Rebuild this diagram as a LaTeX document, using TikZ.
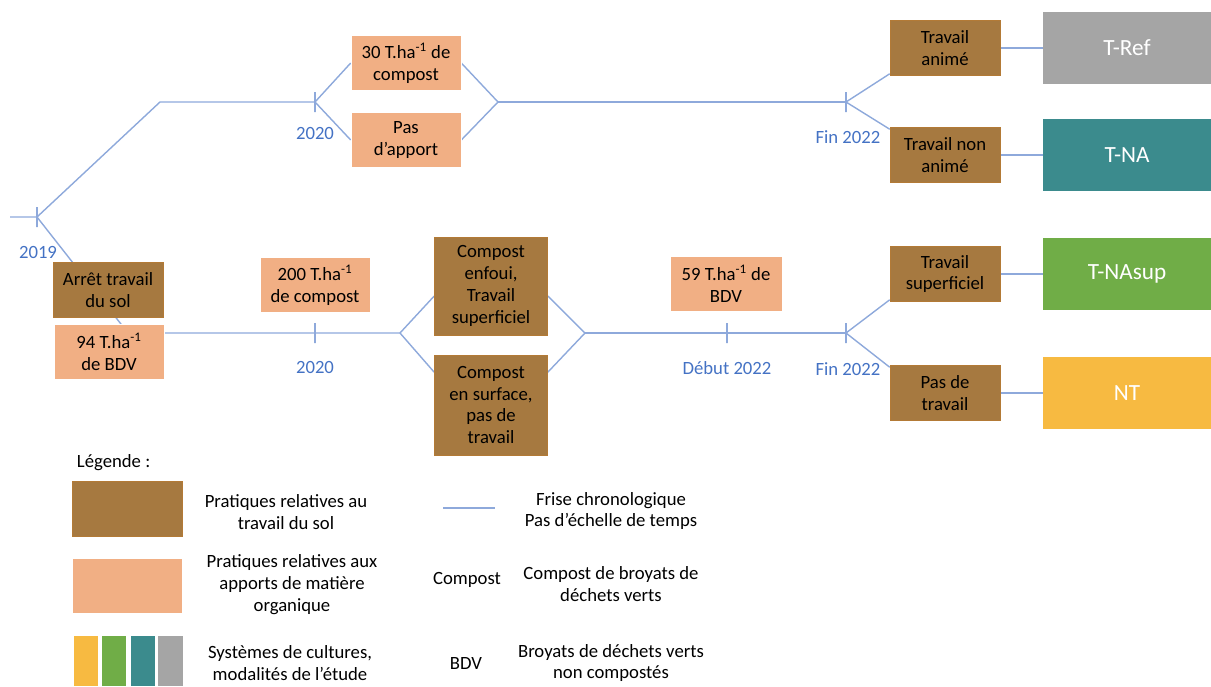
\documentclass[tikz,border=0pt]{standalone}
\usepackage{fontspec}
\setmainfont{Carlito}
\usetikzlibrary{backgrounds}
\definecolor{soilbrown}{RGB}{166,121,64}
\definecolor{omsalmon}{RGB}{241,175,132}
\definecolor{lineblue}{RGB}{142,169,219}
\definecolor{yearblue}{RGB}{68,114,196}
\definecolor{trefgrey}{RGB}{165,165,165}
\definecolor{tnateal}{RGB}{59,139,141}
\definecolor{tsupgreen}{RGB}{112,173,71}
\definecolor{ntyellow}{RGB}{247,186,65}

\begin{document}
\begin{tikzpicture}
  [x=0.025cm,y=-0.025cm,font=\fontsize{13.3}{15.6}\selectfont]
      \tikzstyle{soil_box} = [fill=soilbrown, draw=soilbrown!85!orange, align=center, minimum width=2.75cm, minimum height=1.375cm, inner sep=1pt]
      \tikzstyle{om_box} = [fill=omsalmon, draw=white, align=center, minimum width=2.75cm, minimum height=1.375cm, inner sep=1pt]
      \tikzstyle{sys_box} = [text=white, minimum width=4.2cm, minimum height=1.775cm, font=\fontsize{16.5}{19}\selectfont]
      \tikzstyle{year_label} = [text=yearblue]
      \tikzstyle{tick_mark} = [draw=lineblue, line width=1pt, minimum width=0pt, minimum height=0.5cm, inner sep=0pt]
      \tikzstyle{time_line} = [draw=lineblue, line width=1pt]
      \tikzstyle{leg_text} = [align=center]
  \useasboundingbox (0,0) rectangle (1211,686);

  % timeline ticks
  \node[tick_mark] (t19) at (37,217) {};
  \node[tick_mark] (t20a) at (315,102) {};
  \node[tick_mark] (f22a) at (846,102) {};
  \node[tick_mark] (t20b) at (315,333) {};
  \node[tick_mark] (d22) at (727,333) {};
  \node[tick_mark] (f22b) at (846,333) {};
  \coordinate (s0) at (10,217);
  \coordinate (k1) at (160,102);
  \coordinate (j1) at (498,102);
  \coordinate (k2) at (128,333);
  \coordinate (d1) at (400,333);
  \coordinate (j2) at (585,333);

  % year labels
  \node[year_label] (y19) at (38,252) {2019};
  \node[year_label] (y20a) at (315,133) {2020};
  \node[year_label] (yf22a) at (848,137) {Fin 2022};
  \node[year_label] (y20b) at (315,367) {2020};
  \node[year_label] (yd22) at (727,368) {Début 2022};
  \node[year_label] (yf22b) at (848,369) {Fin 2022};

  % upper branch
  \node[om_box] (c30) at (406,63) {30 T.ha\textsuperscript{-1} de\\compost};
  \node[om_box] (pa) at (406,140) {Pas\\d’apport};
  \node[soil_box] (ta) at (945,48) {Travail\\animé};
  \node[soil_box] (tna) at (945,155) {Travail non\\animé};
  \node[sys_box, fill=trefgrey] (tref) at (1127,48) {T-Ref};
  \node[sys_box, fill=tnateal] (tnasys) at (1127,155) {T-NA};

  % lower branch
  \node[soil_box] (ar) at (108,290) {Arrêt travail\\du sol};
  \node[om_box] (bdv94) at (109,352) {94 T.ha\textsuperscript{-1}\\de BDV};
  \node[om_box] (c200) at (315,285) {200 T.ha\textsuperscript{-1}\\de compost};
  \node[soil_box, minimum width=2.825cm, minimum height=2.45cm] (ce) at (491,286) {Compost\\enfoui,\\Travail\\superficiel};
  \node[soil_box, minimum width=2.825cm, minimum height=2.5cm] (cs) at (491,405) {Compost\\en surface,\\pas de\\travail};
  \node[om_box, minimum width=2.8cm] (bdv59) at (726,284) {59 T.ha\textsuperscript{-1} de\\BDV};
  \node[soil_box] (tsup) at (945,274) {Travail\\superficiel};
  \node[soil_box] (pdt) at (945,393) {Pas de\\travail};
  \node[sys_box, fill=tsupgreen] (tnasup) at (1127,274) {T-NAsup};
  \node[sys_box, fill=ntyellow] (nt) at (1127,393) {NT};

  \begin{scope}[on background layer]
  \draw[time_line] (s0) -- (t19.center) -- (k1) -- (t20a.center);
  \draw[time_line] (t20a.center) -- (c30.west);
  \draw[time_line] (t20a.center) -- (pa.west);
  \draw[time_line] (c30.east) -- (j1) -- (pa.east);
  \draw[time_line] (j1) -- (f22a.center);
  \draw[time_line] (f22a.center) -- (ta.205);
  \draw[time_line] (f22a.center) -- (tna.155);
  \draw[time_line] (ta.east) -- (tref.west);
  \draw[time_line] (tna.east) -- (tnasys.west);
  \draw[time_line] (t19.center) -- (k2) -- (t20b.center) -- (d1);
  \draw[time_line] (d1) -- (ce.190);
  \draw[time_line] (d1) -- (cs.150);
  \draw[time_line] (ce.350) -- (j2) -- (cs.30);
  \draw[time_line] (j2) -- (d22.center) -- (f22b.center);
  \draw[time_line] (f22b.center) -- (tsup.205);
  \draw[time_line] (f22b.center) -- (pdt.155);
  \draw[time_line] (tsup.east) -- (tnasup.west);
  \draw[time_line] (pdt.east) -- (nt.west);
  \end{scope}

  % legend
  \node[anchor=west] (legtitle) at (72,463) {Légende :};
  \node[soil_box] (lgsoil) at (127,509) {};
  \node[om_box] (lgom) at (127,586) {};
  \node[fill=ntyellow, minimum width=0.6cm, minimum height=1.25cm, inner sep=0pt] (lgnt) at (86,661) {};
  \node[fill=tsupgreen, minimum width=0.6cm, minimum height=1.25cm, inner sep=0pt] (lgsup) at (114,661) {};
  \node[fill=tnateal, minimum width=0.6cm, minimum height=1.25cm, inner sep=0pt] (lgna) at (143,661) {};
  \node[fill=trefgrey, minimum width=0.6cm, minimum height=1.25cm, inner sep=0pt] (lgref) at (170.5,661) {};
  \node[leg_text] (ltsoil) at (286,512) {Pratiques relatives au\\travail du sol};
  \node[leg_text] (ltom) at (292,585) {Pratiques relatives aux\\apports de matière\\organique};
  \node[leg_text] (ltsys) at (290,663) {Systèmes de cultures,\\modalités de l’étude};
  \coordinate (lla) at (443,508);
  \coordinate (llb) at (495,508);
  \draw[time_line] (lla) -- (llb);
  \node[leg_text] (ltline) at (611,511) {Frise chronologique\\Pas d’échelle de temps};
  \node (ltcompkey) at (467,580) {Compost};
  \node[leg_text] (ltcomp) at (611,584) {Compost de broyats de\\déchets verts};
  \node (ltbdvkey) at (466,663) {BDV};
  \node[leg_text] (ltbdv) at (611,663) {Broyats de déchets verts\\non compostés};
\end{tikzpicture}
\end{document}
